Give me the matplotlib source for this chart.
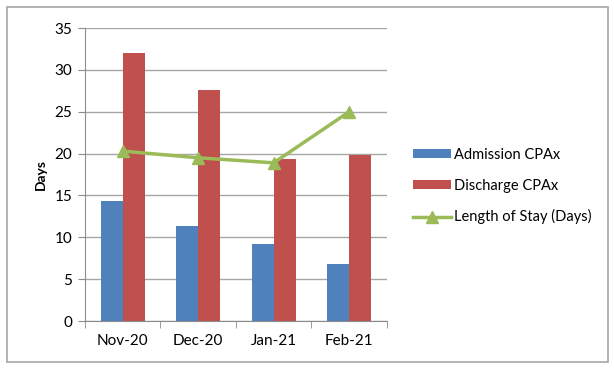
import numpy as np
import matplotlib.pyplot as plt
from matplotlib.patches import Rectangle

# Data
months = ['Nov-20', 'Dec-20', 'Jan-21', 'Feb-21']
admission = [14.3, 11.4, 9.2, 6.8]
discharge = [32.0, 27.6, 19.3, 19.8]
length_of_stay = [20.3, 19.5, 18.9, 25.0]

plt.rcParams['font.family'] = ['Lato', 'DejaVu Sans']

fig = plt.figure(figsize=(6.14, 3.69), dpi=100)
ax = fig.add_axes([0.1384, 0.130, 0.4918, 0.794])

# outer frame
fig.patches.append(Rectangle((7 / 614, 7 / 369), 601 / 614, 355 / 369,
                             transform=fig.transFigure, fill=False,
                             edgecolor='#a6a6a6', linewidth=1.2))

x = np.arange(len(months))
w = 0.29
b1 = ax.bar(x - w / 2, admission, w, color='#4f81bd', label='Admission CPAx', zorder=2)
b2 = ax.bar(x + w / 2, discharge, w, color='#c0504d', label='Discharge CPAx', zorder=2)
ln, = ax.plot(x, length_of_stay, color='#9bbb59', lw=2.5, marker='^', markersize=9,
              label='Length of Stay (Days)', zorder=3)

ax.set_xlim(-0.5, 3.5)
ax.set_ylim(0, 35)
ax.set_yticks(range(0, 36, 5))
ax.set_xticks(x)
ax.set_xticklabels(months)
ax.set_xticks(np.arange(-0.5, 4, 1), minor=True)
ax.tick_params(axis='x', which='major', length=0, pad=9, labelsize=11)
ax.tick_params(axis='x', which='minor', length=5, color='#8c8c8c')
ax.tick_params(axis='y', length=5, color='#8c8c8c', labelsize=11, pad=4)

ax.yaxis.grid(True, color='#a6a6a6', lw=1)
ax.set_axisbelow(True)
for s in ['top', 'right']:
    ax.spines[s].set_visible(False)
for s in ['left', 'bottom']:
    ax.spines[s].set_color('#8c8c8c')

ax.set_ylabel('Days', fontweight='bold', fontsize=10, labelpad=6)

ax.legend([b1, b2, ln], [b1.get_label(), b2.get_label(), ln.get_label()],
          loc='upper left', bbox_to_anchor=(0.652, 0.635),
          bbox_transform=fig.transFigure, frameon=False, fontsize=10.5,
          handlelength=2.6, handleheight=0.6, labelspacing=1.15, handletextpad=0.2)

fig.savefig('out.png', dpi=100)
